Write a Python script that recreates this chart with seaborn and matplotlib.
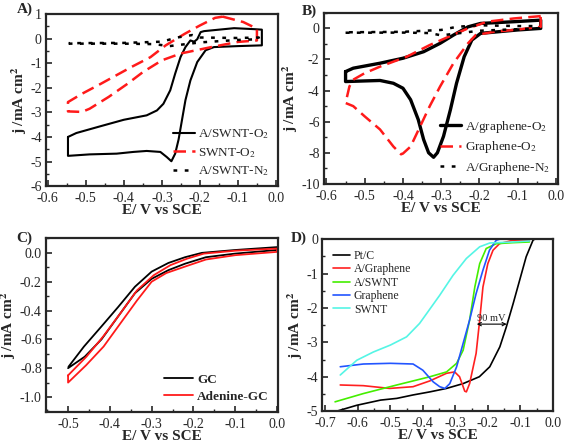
import matplotlib

matplotlib.use("Agg")

import matplotlib.pyplot as plt
import numpy as np
import pandas as pd
import seaborn as sns
from matplotlib.ticker import AutoMinorLocator, MultipleLocator

# ---- panel A: CVs on SWNT (loops, points in scan order) ----
a_swnt_o2_e = [-0.547, -0.525, -0.463, -0.40, -0.34, -0.313, -0.296, -0.278, -0.265, -0.251,
               -0.238, -0.225, -0.215, -0.207, -0.198, -0.189, -0.11, -0.057, -0.037,
               -0.037, -0.10, -0.163, -0.185, -0.207, -0.225, -0.238, -0.247, -0.256, -0.265,
               -0.275, -0.287, -0.304, -0.34, -0.375, -0.419, -0.49, -0.547, -0.547]
a_swnt_o2_j = [-4.0, -3.84, -3.57, -3.30, -3.12, -2.92, -2.65, -2.10, -1.42, -0.75,
               -0.34, -0.07, -0.12, -0.02, 0.27, 0.31, 0.43, 0.39, 0.37,
               -0.27, -0.30, -0.34, -0.47, -0.95, -1.70, -2.50, -3.30, -4.10, -4.68,
               -4.99, -4.82, -4.61, -4.57, -4.61, -4.68, -4.71, -4.77, -4.0]
a_swnt_e = [-0.14, -0.086, -0.05, -0.05, -0.10, -0.17, -0.25, -0.30, -0.35, -0.39, -0.44,
            -0.49, -0.51, -0.547, -0.547, -0.51, -0.46, -0.42, -0.38, -0.33, -0.29, -0.24,
            -0.20, -0.16, -0.14]
a_swnt_j = [0.90, 0.68, 0.41, -0.07, -0.13, -0.34, -0.60, -0.88, -1.36, -1.83, -2.37,
            -2.85, -2.98, -2.96, -2.58, -2.24, -1.83, -1.49, -1.15, -0.75, -0.27, 0.20,
            0.54, 0.85, 0.90]
a_n2_e = [-0.545, -0.40, -0.32, -0.28, -0.20, -0.10, -0.045, -0.045, -0.10, -0.20, -0.22,
          -0.26, -0.30, -0.40, -0.545]
a_n2_j = [-0.20, -0.20, -0.22, -0.30, -0.15, -0.05, -0.02, 0.05, 0.03, 0.05, 0.15,
          0.05, -0.12, -0.17, -0.18]

# ---- panel B: CVs on graphene ----
b_gr_o2_e = [-0.55, -0.53, -0.46, -0.40, -0.346, -0.303, -0.268, -0.23, -0.197, -0.11,
             -0.04, -0.04, -0.10, -0.197, -0.22, -0.24, -0.26, -0.276, -0.294, -0.31,
             -0.32, -0.333, -0.346, -0.36, -0.38, -0.40, -0.425, -0.46, -0.50, -0.55, -0.55]
b_gr_o2_j = [-2.78, -2.56, -2.24, -1.92, -1.50, -0.96, -0.43, 0.10, 0.32, 0.43,
             0.53, 0.0, -0.10, -0.32, -0.75, -1.82, -3.53, -5.23, -6.94, -8.0,
             -8.29, -8.0, -7.15, -5.87, -4.59, -3.85, -3.53, -3.35, -3.38, -3.42, -2.78]
b_gr_e = [-0.04, -0.11, -0.18, -0.23, -0.28, -0.33, -0.39, -0.46, -0.50, -0.53, -0.54,
          -0.55, -0.53, -0.50, -0.46, -0.425, -0.405, -0.40, -0.38, -0.355, -0.33, -0.303,
          -0.268, -0.23, -0.21, -0.16, -0.11, -0.04, -0.04]
b_gr_j = [0.79, 0.64, 0.43, 0.0, -0.53, -1.07, -1.82, -2.46, -2.88, -3.30, -3.74,
          -4.80, -5.0, -5.66, -6.50, -7.60, -8.10, -8.05, -7.60, -6.30, -5.0, -3.74,
          -2.24, -0.96, -0.43, -0.21, -0.10, 0.10, 0.79]
b_n2_e = [-0.55, -0.40, -0.33, -0.30, -0.25, -0.20, -0.10, -0.045, -0.045, -0.10, -0.20,
          -0.26, -0.30, -0.40, -0.55]
b_n2_j = [-0.28, -0.27, -0.30, -0.45, -0.30, -0.15, -0.05, 0.0, 0.15, 0.15, 0.20,
          0.10, -0.10, -0.22, -0.25]

# ---- panel C: GC vs adenine-GC ----
c_gc_e = [-0.499, -0.462, -0.42, -0.38, -0.34, -0.30, -0.26, -0.22, -0.18, -0.10, 0.0,
          0.0, -0.10, -0.17, -0.22, -0.26, -0.30, -0.34, -0.38, -0.42, -0.46, -0.50]
c_gc_j = [-0.79, -0.65, -0.51, -0.375, -0.235, -0.13, -0.07, -0.03, 0.0, 0.02, 0.04,
          0.02, -0.005, -0.03, -0.075, -0.12, -0.18, -0.28, -0.44, -0.60, -0.72, -0.80]
c_ad_e = [-0.50, -0.456, -0.416, -0.375, -0.335, -0.295, -0.255, -0.215, -0.175, -0.10, 0.0,
          0.0, -0.10, -0.17, -0.215, -0.265, -0.30, -0.335, -0.375, -0.415, -0.457, -0.50, -0.50]
c_ad_j = [-0.85, -0.72, -0.58, -0.42, -0.26, -0.155, -0.085, -0.04, -0.005, 0.015, 0.03,
          0.007, -0.016, -0.046, -0.09, -0.14, -0.20, -0.33, -0.49, -0.65, -0.78, -0.90, -0.85]

# ---- panel D: LSVs ----
d_ptc_e = [-0.664, -0.603, -0.53, -0.48, -0.43, -0.378, -0.327, -0.276, -0.226, -0.194,
           -0.163, -0.143, -0.122, -0.102, -0.082, -0.061, -0.056]
d_ptc_j = [-5.0, -4.83, -4.68, -4.63, -4.53, -4.44, -4.34, -4.20, -4.0, -3.71,
           -3.13, -2.55, -1.87, -1.19, -0.51, -0.03, 0.0]
d_agr_e = [-0.654, -0.583, -0.502, -0.43, -0.378, -0.327, -0.302, -0.287, -0.271, -0.266,
           -0.256, -0.236, -0.225, -0.215, -0.20, -0.184, -0.164, -0.123, -0.072]
d_agr_j = [-4.24, -4.26, -4.34, -4.29, -4.12, -3.90, -3.86, -4.0, -4.42, -4.44,
           -4.20, -3.32, -2.35, -1.39, -0.71, -0.32, -0.13, -0.03, -0.05]
d_aswnt_e = [-0.67, -0.583, -0.48, -0.378, -0.327, -0.296, -0.276, -0.256, -0.24, -0.225,
             -0.205, -0.174, -0.123, -0.072]
d_aswnt_j = [-4.73, -4.49, -4.24, -4.0, -3.86, -3.61, -3.23, -2.35, -1.39, -0.71,
             -0.27, -0.13, -0.10, -0.08]
d_gr_e = [-0.654, -0.583, -0.50, -0.43, -0.40, -0.368, -0.348, -0.332, -0.317, -0.296,
          -0.276, -0.256, -0.236, -0.215, -0.195, -0.174, -0.164]
d_gr_j = [-3.71, -3.63, -3.61, -3.63, -3.81, -4.15, -4.29, -4.34, -4.20, -3.71,
          -3.03, -2.35, -1.58, -0.90, -0.32, -0.03, 0.0]
d_swnt_e = [-0.654, -0.603, -0.552, -0.50, -0.45, -0.41, -0.388, -0.348, -0.307, -0.266,
            -0.225, -0.194, -0.123, -0.072]
d_swnt_j = [-3.95, -3.52, -3.28, -3.08, -2.84, -2.45, -2.16, -1.63, -1.05, -0.56,
            -0.22, -0.11, -0.08, -0.05]

SERIF = "Liberation Serif"

sns.set_style("ticks")
plt.rcParams["font.family"] = [SERIF, "DejaVu Serif"]
plt.rcParams["mathtext.fontset"] = "stix"
plt.rcParams["xtick.direction"] = "in"
plt.rcParams["ytick.direction"] = "in"
plt.rcParams["axes.linewidth"] = 1.6

fig = plt.figure(figsize=(5.67, 4.43), dpi=100)


def _curve(ax, e, j, **kw):
    df = pd.DataFrame({"E": e, "j": j})
    sns.lineplot(data=df, x="E", y="j", sort=False, estimator=None, ax=ax, **kw)


def _style(ax, xlim, ylim, xstep, ystep, xfmt, yfmt):
    ax.set_xlim(*xlim)
    ax.set_ylim(*ylim)
    ax.xaxis.set_major_locator(MultipleLocator(xstep))
    ax.yaxis.set_major_locator(MultipleLocator(ystep))
    ax.xaxis.set_minor_locator(AutoMinorLocator(2))
    ax.yaxis.set_minor_locator(AutoMinorLocator(2))
    ax.xaxis.set_major_formatter(plt.FuncFormatter(lambda v, p: xfmt.format(v + 0.0)))
    ax.yaxis.set_major_formatter(plt.FuncFormatter(lambda v, p: yfmt.format(v + 0.0)))
    ax.tick_params(which="major", length=4, width=1.2, labelsize=10)
    ax.tick_params(axis="x", which="major", pad=4.5)
    ax.tick_params(axis="y", which="major", pad=3)
    ax.tick_params(which="minor", length=2.5, width=1.0)
    ax.set_xlabel("E/ V vs SCE", fontsize=11, fontweight="bold", labelpad=-1)
    ax.set_ylabel("j /mA cm$^{\\mathbf{2}}$", fontsize=11, fontweight="bold", labelpad=1)
    for s in ax.spines.values():
        s.set_visible(True)


dash = (5, 2.5)
dots = (1.5, 3)

# A
ax_a = fig.add_axes([0.081, 0.580, 0.409, 0.388])
_curve(ax_a, a_swnt_o2_e, a_swnt_o2_j, color="black", lw=1.5, label="A/SWNT-O$_2$")
_curve(ax_a, a_swnt_e, a_swnt_j, color="#ff1a1a", lw=1.8, dashes=dash, label="SWNT-O$_2$")
_curve(ax_a, a_n2_e, a_n2_j, color="black", lw=1.8, dashes=dots, label="A/SWNT-N$_2$")
_style(ax_a, (-0.605, 0.005), (-6, 1), 0.1, 1, "{:.1f}", "{:.0f}")
ax_a.legend(loc="lower right", bbox_to_anchor=(1.0, 0.0), frameon=False, fontsize=9.5,
            handlelength=1.6, handletextpad=0.3, labelspacing=0.35, borderaxespad=0.2)

# B
ax_b = fig.add_axes([0.571, 0.585, 0.413, 0.386])
_curve(ax_b, b_gr_o2_e, b_gr_o2_j, color="black", lw=2.4, label="A/graphene-O$_2$")
_curve(ax_b, b_gr_e, b_gr_j, color="#ff1a1a", lw=1.8, dashes=dash, label="Graphene-O$_2$")
_curve(ax_b, b_n2_e, b_n2_j, color="black", lw=1.8, dashes=dots, label="A/Graphene-N$_2$")
_style(ax_b, (-0.607, 0.005), (-10, 1), 0.1, 2, "{:.1f}", "{:.0f}")
ax_b.legend(loc="lower right", bbox_to_anchor=(1.0, 0.0), frameon=False, fontsize=9.5,
            handlelength=1.6, handletextpad=0.3, labelspacing=0.35, borderaxespad=0.2)

# C
ax_c = fig.add_axes([0.081, 0.070, 0.409, 0.393])
_curve(ax_c, c_gc_e, c_gc_j, color="black", lw=1.3, label="GC")
_curve(ax_c, c_ad_e, c_ad_j, color="#ff1a1a", lw=1.3, label="Adenine-GC")
_style(ax_c, (-0.553, 0.002), (-1.104, 0.104), 0.1, 0.2, "{:.1f}", "{:.1f}")
leg = ax_c.legend(loc="lower right", frameon=False, fontsize=9.5, handlelength=2.2,
                  handletextpad=0.3, labelspacing=0.35, borderaxespad=0.3)
for t in leg.get_texts():
    t.set_fontweight("bold")

# D
ax_d = fig.add_axes([0.568, 0.072, 0.407, 0.388])
_curve(ax_d, d_ptc_e, d_ptc_j, color="black", lw=1.2, label="Pt/C")
_curve(ax_d, d_agr_e, d_agr_j, color="#ff2020", lw=1.2, label="A/Graphene")
_curve(ax_d, d_aswnt_e, d_aswnt_j, color="#44ee00", lw=1.2, label="A/SWNT")
_curve(ax_d, d_gr_e, d_gr_j, color="#2255ff", lw=1.2, label="Graphene")
_curve(ax_d, d_swnt_e, d_swnt_j, color="#55f5e5", lw=1.2, label="SWNT")
_style(ax_d, (-0.71, 0.0), (-5, 0), 0.1, 1, "{:.1f}", "{:.0f}")
ax_d.legend(loc="upper left", frameon=False, fontsize=8.5, handlelength=1.5,
            handletextpad=0.3, labelspacing=0.12, borderaxespad=0.5)
ax_d.annotate("", xy=(-0.234, -2.47), xytext=(-0.142, -2.47),
              arrowprops=dict(arrowstyle="<->", color="black", lw=0.8,
                              shrinkA=0, shrinkB=0, mutation_scale=6))
ax_d.text(-0.188, -2.30, "90 mV", ha="center", va="center", fontsize=7.5)

# panel letters
for x, y, s in [(0.030, 0.980, "A)"), (0.533, 0.975, "B)"), (0.028, 0.463, "C)"),
                (0.513, 0.463, "D)")]:
    fig.text(x, y, s, fontsize=11, fontweight="bold", ha="left", va="center")

fig.savefig("out.png", dpi=100)
